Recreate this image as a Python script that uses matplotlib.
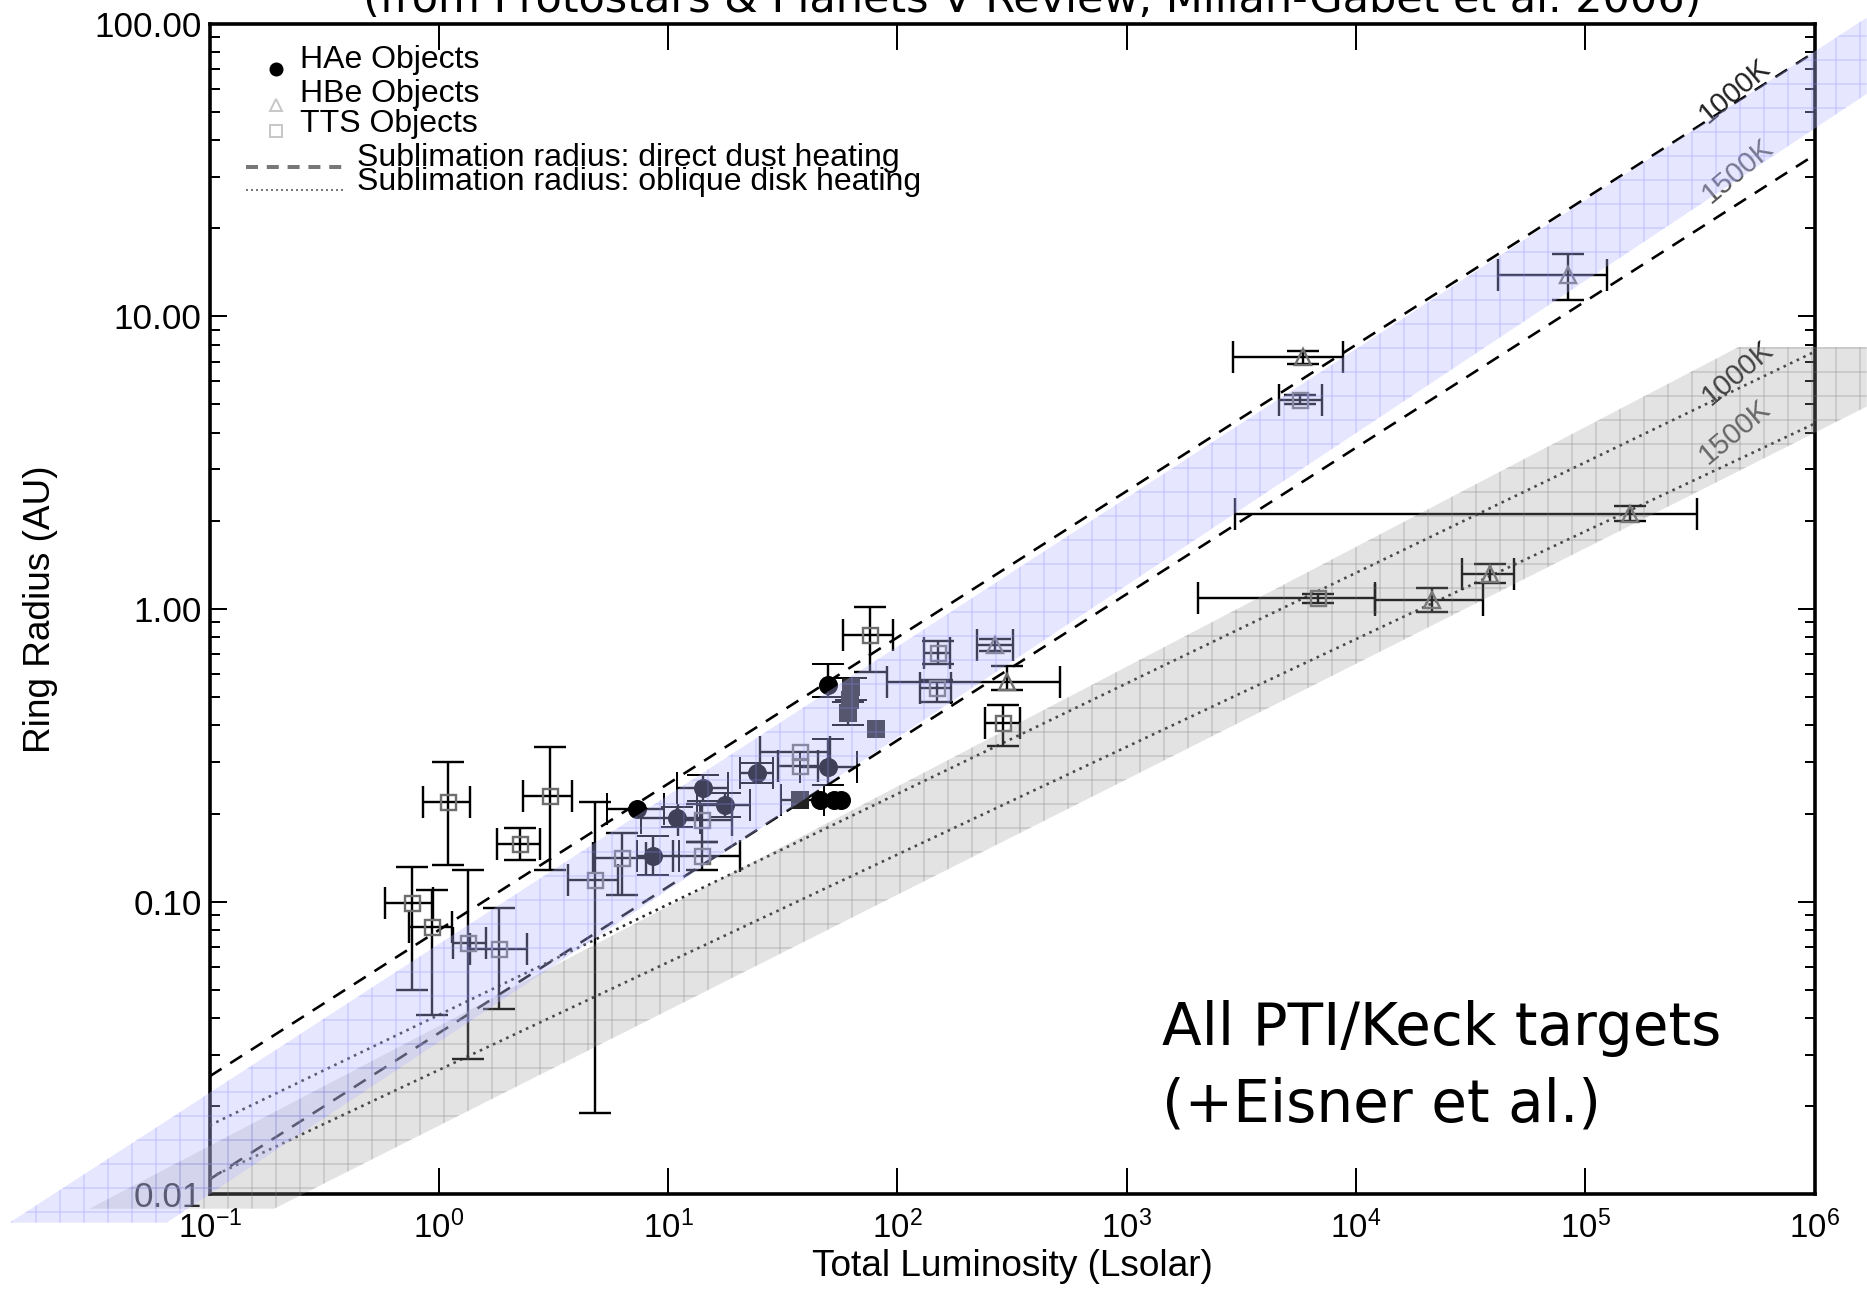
import matplotlib
matplotlib.use('Agg')
import matplotlib.pyplot as plt
import numpy as np
from matplotlib.patches import Polygon
from matplotlib.ticker import LogLocator, NullLocator, FuncFormatter, LogFormatterSciNotation

# ---------------- data ----------------
# HAe objects (filled circles): L, R, x-range (lo, hi), y-range (lo, hi); None = no bar
HAE_L = [49.9, 49.9, 24.3, 46.0, 53.0, 57.0, 14.2, 17.7, 10.9, 7.3, 8.6]
HAE_R = [0.55, 0.289, 0.275, 0.222, 0.222, 0.222, 0.244, 0.214, 0.193, 0.208, 0.143]
HAE_XLO = [None, 37.7, 20.6, None, None, None, 10.9, 13.3, 7.6, 5.4, 7.3]
HAE_XHI = [None, 66.6, 28.6, None, None, None, 18.3, 22.8, 13.8, 9.6, 11.1]
HAE_YLO = [0.50, 0.25, 0.254, None, None, None, 0.22, 0.195, 0.18, None, 0.123]
HAE_YHI = [0.65, 0.36, 0.297, None, None, None, 0.27, 0.235, 0.21, None, 0.167]

# dark filled squares
FSQ_L = [63.0, 62.0, 61.0, 81.0, 37.6]
FSQ_R = [0.54, 0.49, 0.44, 0.39, 0.222]
FSQ_XLO = [None, None, None, None, 31.0]
FSQ_XHI = [None, None, None, None, 48.0]
FSQ_YLO = [0.49, None, 0.40, None, None]
FSQ_YHI = [0.58, None, 0.48, None, None]

# HBe objects (open triangles)
HBE_L = [299.0, 266.0, 5890.0, 1.56e5, 3.84e4, 2.14e4, 8.41e4]
HBE_R = [0.565, 0.753, 7.28, 2.12, 1.32, 1.07, 13.85]
HBE_XLO = [89.8, 222.0, 2911.0, 2965.0, 2.9e4, 1.21e4, 4.17e4]
HBE_XHI = [512.0, 320.0, 8790.0, 3.07e5, 4.9e4, 3.59e4, 1.24e5]
HBE_YLO = [0.53, 0.72, 6.9, 2.0, 1.23, 0.98, 11.4]
HBE_YHI = [0.64, 0.79, 7.6, 2.25, 1.42, 1.18, 16.4]

# TTS objects (open squares)
TTS_L = [75.9, 150.8, 148.0, 37.6, 37.6, 288.0, 5690.0, 6840.0,
         1.10, 3.05, 2.26, 0.76, 0.93, 1.34, 1.82, 4.8, 6.27, 14.0, 14.0]
TTS_R = [0.815, 0.706, 0.536, 0.325, 0.29, 0.407, 5.18, 1.09,
         0.219, 0.229, 0.158, 0.0987, 0.082, 0.072, 0.069, 0.119, 0.141, 0.143, 0.19]
TTS_XLO = [58.0, 131.0, 125.0, 25.1, 30.0, 242.0, 4600.0, 2051.0,
           0.855, 2.33, 1.79, 0.58, 0.74, 1.15, 1.37, 3.67, 4.7, 10.5, 11.0]
TTS_XHI = [96.0, 170.0, 172.0, 50.6, 45.0, 344.0, 7100.0, 1.21e4,
           1.37, 3.80, 2.76, 0.946, 1.14, 1.6, 2.41, 6.06, 8.0, 20.6, 19.0]
TTS_YLO = [0.61, 0.65, 0.48, None, None, 0.34, 5.0, 1.05,
           0.133, 0.128, 0.139, 0.0499, 0.041, 0.029, 0.043, 0.019, 0.105, 0.128, 0.16]
TTS_YHI = [1.02, 0.78, 0.57, None, None, 0.47, 5.4, 1.13,
           0.30, 0.338, 0.178, 0.131, 0.110, 0.128, 0.095, 0.219, 0.171, 0.16, 0.215]

# sublimation-radius lines (end points)
LINE_L = [0.1, 1e6]
R_DIRECT_1000 = [0.0253, 80.0]
R_DIRECT_1500 = [0.01125, 35.6]
R_OBLIQUE_1000 = [0.0172, 7.57]
R_OBLIQUE_1500 = [0.0114, 4.30]

# shaded bands (corner points)
BLUE_BAND_L = [0.0134, 0.065, 1.69e6, 1.69e6]
BLUE_BAND_R = [0.0080, 0.0080, 57.6, 105.0]
GRAY_BAND_L = [0.0299, 0.191, 1.69e6, 1.69e6, 4.66e5]
GRAY_BAND_R = [0.00893, 0.00893, 4.92, 7.86, 7.86]

YTICKS = [0.01, 0.1, 1.0, 10.0, 100.0]
XTICKS = [1e-1, 1e0, 1e1, 1e2, 1e3, 1e4, 1e5, 1e6]

# ---------------- figure ----------------
plt.rcParams['font.family'] = ['Liberation Sans', 'DejaVu Sans']
plt.rcParams['mathtext.fontset'] = 'custom'
plt.rcParams['mathtext.rm'] = 'Liberation Sans'
plt.rcParams['mathtext.it'] = 'Liberation Sans'
plt.rcParams['hatch.linewidth'] = 0.6

DPI = 144
fig = plt.figure(figsize=(1867 / DPI, 1299 / DPI), dpi=DPI)
ax = fig.add_axes([0.1123, 0.0806, 0.8596, 0.9011])
ax.set_xscale('log')
ax.set_yscale('log')
ax.set_xlim(0.1, 1e6)
ax.set_ylim(0.01, 100)

for s in ax.spines.values():
    s.set_linewidth(1.8)

ax.set_xticks(XTICKS)
ax.xaxis.set_minor_locator(NullLocator())
ax.xaxis.set_major_formatter(LogFormatterSciNotation())
ax.set_yticks(YTICKS)
ax.yaxis.set_minor_locator(LogLocator(base=10, subs=np.arange(2, 10), numticks=20))
ax.yaxis.set_major_formatter(FuncFormatter(lambda v, p: '%.2f' % v))
ax.yaxis.set_minor_formatter(FuncFormatter(lambda v, p: ''))

ax.tick_params(axis='x', which='major', direction='in', length=13, width=1.0,
               top=True, bottom=True, labelsize=16.5, pad=8)
ax.tick_params(axis='y', which='major', direction='in', length=8.5, width=1.0,
               left=True, right=True, labelsize=17.5, pad=4)
ax.tick_params(axis='y', which='minor', direction='in', length=5, width=1.0,
               left=True, right=True)

ax.set_xlabel('Total Luminosity (Lsolar)', fontsize=18.5, labelpad=2)
ax.set_ylabel('Ring Radius (AU)', fontsize=18.5, labelpad=18)

# lines
ax.plot(LINE_L, R_DIRECT_1000, color='black', lw=1.3, dashes=(5.4, 4.0), zorder=3)
ax.plot(LINE_L, R_DIRECT_1500, color='black', lw=1.3, dashes=(5.4, 4.0), zorder=3)
ax.plot(LINE_L, R_OBLIQUE_1000, color='#2a2a2a', lw=1.3, linestyle=(0, (1, 1.8)), zorder=3)
ax.plot(LINE_L, R_OBLIQUE_1500, color='#2a2a2a', lw=1.3, linestyle=(0, (1, 1.8)), zorder=3)


def draw_points(Ls, Rs, xlo, xhi, ylo, yhi, **mk):
    for i in range(len(Ls)):
        L, R = Ls[i], Rs[i]
        xe = None if xlo[i] is None else [[L - xlo[i]], [xhi[i] - L]]
        ye = None if ylo[i] is None else [[R - ylo[i]], [yhi[i] - R]]
        ax.errorbar([L], [R], xerr=xe, yerr=ye, ecolor='black', elinewidth=1.2,
                    capsize=8, capthick=1.2, linestyle='none', zorder=4, **mk)


draw_points(TTS_L, TTS_R, TTS_XLO, TTS_XHI, TTS_YLO, TTS_YHI,
            marker='s', ms=7.5, mfc='none', mec='#6e6e6e', mew=1.2)
draw_points(HBE_L, HBE_R, HBE_XLO, HBE_XHI, HBE_YLO, HBE_YHI,
            marker='^', ms=8, mfc='none', mec='#6e6e6e', mew=1.2)
draw_points(FSQ_L, FSQ_R, FSQ_XLO, FSQ_XHI, FSQ_YLO, FSQ_YHI,
            marker='s', ms=8, mfc='#222222', mec='#222222', mew=1)
draw_points(HAE_L, HAE_R, HAE_XLO, HAE_XHI, HAE_YLO, HAE_YHI,
            marker='o', ms=8.5, mfc='black', mec='black', mew=1)

# temperature labels
ax.text(0.950, 0.943, '1000K', transform=ax.transAxes, rotation=40, fontsize=14.5,
        color='#222222', ha='center', va='center', zorder=5)
ax.text(0.952, 0.874, '1500K', transform=ax.transAxes, rotation=40, fontsize=14.5,
        color='#555555', ha='center', va='center', zorder=5)
ax.text(0.952, 0.702, '1000K', transform=ax.transAxes, rotation=40, fontsize=14.5,
        color='#222222', ha='center', va='center', zorder=5)
ax.text(0.950, 0.651, '1500K', transform=ax.transAxes, rotation=40, fontsize=14.5,
        color='#555555', ha='center', va='center', zorder=5)

# shaded bands (drawn on top, extending outside the axes)
blue_xy = np.column_stack([BLUE_BAND_L, BLUE_BAND_R])
gray_xy = np.column_stack([GRAY_BAND_L, GRAY_BAND_R])
ax.add_patch(Polygon(gray_xy, closed=True, facecolor=(0.6, 0.6, 0.6), alpha=0.27,
                     edgecolor='none', clip_on=False, zorder=10))
ax.add_patch(Polygon(gray_xy, closed=True, facecolor='none', hatch='+',
                     edgecolor=(0.45, 0.45, 0.45, 0.35), lw=0, clip_on=False, zorder=10.1))
ax.add_patch(Polygon(blue_xy, closed=True, facecolor=(0.72, 0.72, 1.0), alpha=0.35,
                     edgecolor='none', clip_on=False, zorder=11))
ax.add_patch(Polygon(blue_xy, closed=True, facecolor='none', hatch='+',
                     edgecolor=(0.55, 0.55, 1.0, 0.35), lw=0, clip_on=False, zorder=11.1))

# legend (manual)
lx_m, lx_t = 0.1478, 0.1607
fig.lines.append(plt.Line2D([lx_m], [0.9469], marker='o', ms=6, color='black',
                            transform=fig.transFigure))
fig.lines.append(plt.Line2D([lx_m], [0.9192], marker='^', ms=6, mfc='none', mec='#c8c8c8',
                            mew=1, transform=fig.transFigure))
fig.lines.append(plt.Line2D([lx_m], [0.8992], marker='s', ms=6, mfc='none', mec='#c8c8c8',
                            mew=1, transform=fig.transFigure))
fig.lines.append(plt.Line2D([0.1318, 0.1848], [0.8714, 0.8714], color='#777777', lw=2,
                            dashes=(3, 2.2), transform=fig.transFigure))
fig.lines.append(plt.Line2D([0.1318, 0.1848], [0.8537, 0.8537], color='#777777', lw=1,
                            linestyle=(0, (1, 1.5)), transform=fig.transFigure))
fig.text(lx_t, 0.9538, 'HAe Objects', fontsize=16, va='center', ha='left')
fig.text(lx_t, 0.9276, 'HBe Objects', fontsize=16, va='center', ha='left')
fig.text(lx_t, 0.9045, 'TTS Objects', fontsize=16, va='center', ha='left')
fig.text(0.1912, 0.8784, 'Sublimation radius: direct dust heating', fontsize=16,
         va='center', ha='left')
fig.text(0.1912, 0.8599, 'Sublimation radius: oblique disk heating', fontsize=16,
         va='center', ha='left')

# title (partly cut at the top) and annotation
fig.text(0.553, 0.9908, '(from Protostars & Planets V Review, Millan-Gabet et al. 2006)',
         fontsize=21.5, family='DejaVu Sans', ha='center', va='baseline')
fig.text(0.6224, 0.1955, 'All PTI/Keck targets', fontsize=29, family='DejaVu Sans',
         ha='left', va='baseline')
fig.text(0.6224, 0.1363, '(+Eisner et al.)', fontsize=29, family='DejaVu Sans',
         ha='left', va='baseline')

fig.savefig('out.png', dpi=DPI)
